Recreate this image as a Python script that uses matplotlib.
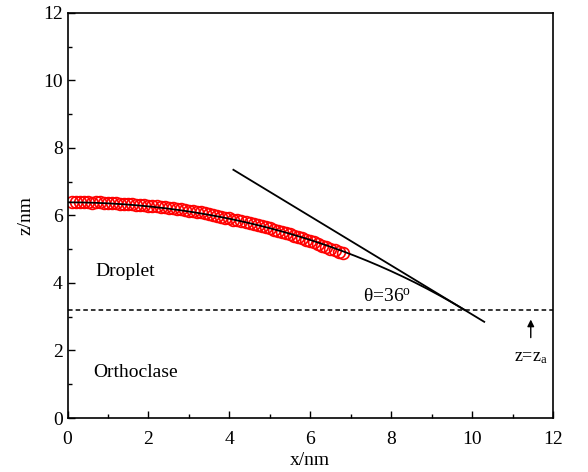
import numpy as np
import matplotlib
matplotlib.use("Agg")
import matplotlib.pyplot as plt
from matplotlib.ticker import MultipleLocator

plt.rcParams['font.family'] = ['Liberation Serif', 'DejaVu Serif']
plt.rcParams['mathtext.fontset'] = 'custom'
plt.rcParams['mathtext.rm'] = 'Liberation Serif'
plt.rcParams['mathtext.it'] = 'Liberation Serif:italic'

# droplet profile (nm)
x_drop = [0.1, 0.2, 0.3, 0.4, 0.5, 0.6, 0.7, 0.8, 0.9, 1.0,
          1.1, 1.2, 1.3, 1.4, 1.5, 1.6, 1.7, 1.8, 1.9, 2.0,
          2.1, 2.2, 2.3, 2.4, 2.5, 2.6, 2.7, 2.8, 2.9, 3.0,
          3.1, 3.2, 3.3, 3.4, 3.5, 3.6, 3.7, 3.8, 3.9, 4.0,
          4.1, 4.2, 4.3, 4.4, 4.5, 4.6, 4.7, 4.8, 4.9, 5.0,
          5.1, 5.2, 5.3, 5.4, 5.5, 5.6, 5.7, 5.8, 5.9, 6.0,
          6.1, 6.2, 6.3, 6.4, 6.5, 6.6, 6.7, 6.8]
z_drop = [6.41, 6.40, 6.39, 6.41, 6.40, 6.38, 6.40, 6.39, 6.37, 6.36,
          6.38, 6.36, 6.35, 6.34, 6.33, 6.34, 6.32, 6.30, 6.31, 6.29,
          6.28, 6.27, 6.25, 6.26, 6.23, 6.22, 6.20, 6.19, 6.17, 6.14,
          6.13, 6.11, 6.09, 6.07, 6.04, 6.02, 5.98, 5.96, 5.94, 5.92,
          5.88, 5.86, 5.84, 5.80, 5.78, 5.74, 5.72, 5.68, 5.65, 5.62,
          5.58, 5.55, 5.51, 5.48, 5.44, 5.40, 5.36, 5.32, 5.28, 5.24,
          5.20, 5.16, 5.11, 5.07, 5.02, 4.98, 4.93, 4.88]

# circle fit, tangent drawn at its contact point
z_surface = 3.2
z_top = 6.39
theta_deg = 36
x_tangent = [4.1, 10.3]

theta = np.radians(theta_deg)
R = (z_top - z_surface) / (1 - np.cos(theta))
zc = z_top - R
x_contact = R * np.sin(theta)
x_fit = np.linspace(0, x_contact, 200)
z_fit = zc + np.sqrt(R**2 - x_fit**2)
x_tan = np.array(x_tangent)
z_tan = z_surface + np.tan(theta) * (x_contact - x_tan)

fig = plt.figure(figsize=(5.88, 4.72), dpi=100)
ax = fig.add_axes([0.1148, 0.1144, 0.8257, 0.8581])

ax.plot(x_drop, z_drop, 'o', mfc='none', mec='red', ms=8.5, mew=1.2)
ax.plot(x_fit, z_fit, color='black', lw=1.3)
ax.plot(x_tan, z_tan, color='black', lw=1.3)
ax.axhline(z_surface, color='black', lw=1.1, ls=(0, (3, 2)))

ax.text(0.68, 4.33, 'Droplet', fontsize=14, va='center', ha='left')
ax.text(0.63, 1.36, 'Orthoclase', fontsize=14, va='center', ha='left')
ax.text(7.3, 3.6, r'θ=36$^\mathrm{o}$', fontsize=14, va='center', ha='left')
ax.annotate('', xy=(11.45, 3.0), xytext=(11.45, 2.3),
            arrowprops=dict(arrowstyle='-|>', color='black', lw=1.0,
                            mutation_scale=10))
ax.text(11.45, 1.8, r'z=z$_\mathrm{a}$', fontsize=13, va='center', ha='center')

ax.set_xlim(0, 12)
ax.set_ylim(0, 12)
ax.xaxis.set_major_locator(MultipleLocator(2))
ax.xaxis.set_minor_locator(MultipleLocator(1))
ax.yaxis.set_major_locator(MultipleLocator(2))
ax.yaxis.set_minor_locator(MultipleLocator(1))
ax.tick_params(which='both', direction='in', labelsize=14, top=False, right=False)
ax.tick_params(which='major', length=5, width=1.0)
ax.tick_params(which='minor', length=3, width=1.0)
ax.tick_params(axis='x', pad=9)
for s in ax.spines.values():
    s.set_linewidth(1.2)
ax.set_xlabel('x/nm', fontsize=14, labelpad=3)
ax.set_ylabel('z/nm', fontsize=14, labelpad=6)

fig.savefig('out.png', dpi=100)
